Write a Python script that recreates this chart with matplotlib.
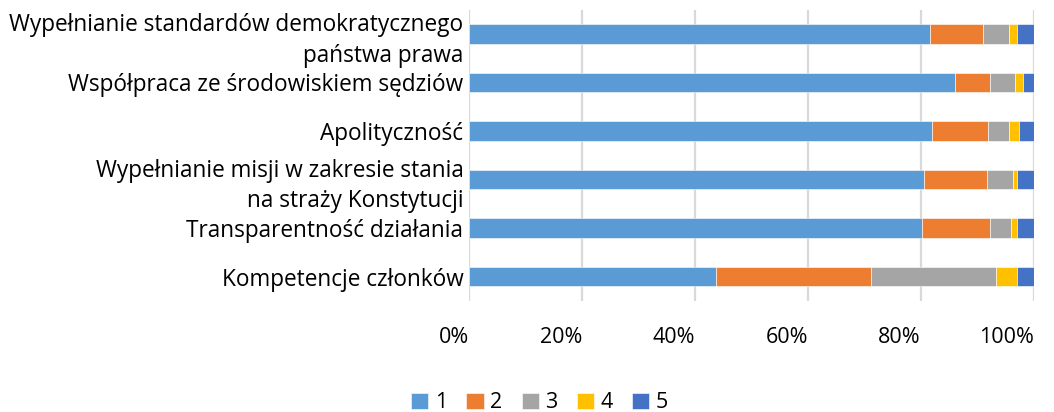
import matplotlib.pyplot as plt
import numpy as np
from matplotlib.ticker import FuncFormatter

plt.rcParams['font.family'] = ['Open Sans', 'DejaVu Sans']

# kategorie od góry do dołu
categories = [
    "Wypełnianie standardów demokratycznego\npaństwa prawa",
    "Współpraca ze środowiskiem sędziów",
    "Apolityczność",
    "Wypełnianie misji w zakresie stania\nna straży Konstytucji",
    "Transparentność działania",
    "Kompetencje członków",
]
series_names = ["1", "2", "3", "4", "5"]
s1 = [81.6, 86.0, 81.9, 80.5, 80.1, 43.7]
s2 = [9.4, 6.3, 10.0, 11.2, 12.2, 27.5]
s3 = [4.6, 4.3, 3.7, 4.6, 3.7, 22.0]
s4 = [1.4, 1.4, 1.7, 0.7, 1.0, 3.8]
s5 = [3.0, 2.0, 2.7, 3.0, 3.0, 3.0]
colors = ["#5B9BD5", "#ED7D31", "#A5A5A5", "#FFC000", "#4472C4"]

fig = plt.figure(figsize=(10.54, 4.12), dpi=100)
ax = fig.add_axes([0.445, 0.2694, 0.536, 0.7075])

y = np.arange(len(categories))
left = np.zeros(len(categories))
for name, vals, c in zip(series_names, [s1, s2, s3, s4, s5], colors):
    vals = np.array(vals)
    ax.barh(y, vals, left=left, height=0.4, color=c, label=name,
            edgecolor="white", linewidth=0.4, zorder=2)
    left += vals

ax.set_xlim(0, 100)
ax.set_ylim(len(categories) - 0.5, -0.5)
ax.set_xticks(np.arange(0, 101, 20))
ax.xaxis.set_major_formatter(FuncFormatter(lambda v, p: f"{int(v)}%"))
ax.set_yticks(y)
ax.set_yticklabels(categories)
for lab in ax.get_yticklabels():
    lab.set_linespacing(1.38)
    lab.set_fontsize(16.3)
for lab in ax.get_xticklabels():
    lab.set_horizontalalignment("right")
    lab.set_fontsize(15.5)

ax.grid(axis="x", color="#D9D9D9", linewidth=1.6, zorder=0)
for s in ax.spines.values():
    s.set_visible(False)
ax.tick_params(axis="both", length=0, colors="#000000")
ax.tick_params(axis="y", pad=4)
ax.tick_params(axis="x", pad=19)

fig.legend(loc="lower center", bbox_to_anchor=(0.512, -0.05), ncol=5,
           frameon=False, fontsize=15.5, handlelength=0.8, handleheight=0.8,
           handletextpad=0.3, columnspacing=0.9)

fig.savefig("out.png", dpi=100)
